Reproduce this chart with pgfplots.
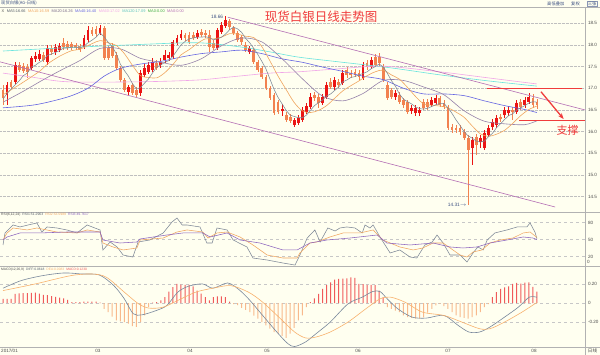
\documentclass[border=0pt]{standalone}
\usepackage{pgfplots}
\pgfplotsset{compat=1.18}
\usepackage{pgfplotstable}
\usepackage{fontspec}
\setmainfont{Liberation Sans}
\newfontfamily\cjk{Noto Sans CJK SC}
\usetikzlibrary{arrows.meta}
\definecolor{bgcol}{RGB}{255,255,240}
\definecolor{candleup}{RGB}{235,20,20}
\definecolor{candledn}{RGB}{242,130,80}
\definecolor{mafive}{RGB}{125,135,150}
\definecolor{maten}{RGB}{240,165,95}
\definecolor{matwenty}{RGB}{150,130,170}
\definecolor{maforty}{RGB}{100,100,225}
\definecolor{masixty}{RGB}{240,165,232}
\definecolor{mahundred}{RGB}{105,228,222}
\definecolor{trendcol}{RGB}{180,110,180}
\definecolor{rsithree}{RGB}{140,100,190}
\definecolor{macdneg}{RGB}{248,185,140}
\definecolor{macdpos}{RGB}{240,90,90}
\definecolor{diffcol}{RGB}{120,135,155}
\definecolor{deacol}{RGB}{248,178,110}
\definecolor{titlecol}{RGB}{240,60,60}
\definecolor{hdrcol}{RGB}{60,80,130}
\definecolor{mazero}{RGB}{60,170,60}

\pgfplotstableread{
i o h l c
1 16.85 17.15 16.61 17.08
3 17.15 17.61 17.10 17.54
7 17.47 17.75 17.42 17.70
8 17.68 17.84 17.61 17.75
9 17.68 17.89 17.63 17.79
11 17.61 18.00 17.54 17.93
13 17.84 18.02 17.77 17.95
14 17.89 18.05 17.84 17.98
20 17.95 18.23 17.91 18.16
21 18.11 18.44 18.07 18.35
24 18.28 18.46 18.23 18.39
31 16.91 17.08 16.85 17.03
34 16.89 17.42 16.82 17.35
35 17.31 17.56 17.26 17.47
36 17.38 17.61 17.33 17.54
37 17.42 17.70 17.38 17.61
39 17.54 17.70 17.47 17.61
40 17.65 17.89 17.58 17.77
41 17.70 17.84 17.63 17.77
42 17.72 18.11 17.68 18.07
43 18.05 18.23 18.00 18.16
44 18.16 18.35 18.11 18.25
48 18.18 18.35 18.14 18.28
53 17.93 18.39 17.89 18.35
54 18.30 18.53 18.25 18.46
55 18.44 18.66 18.39 18.58
61 17.84 17.98 17.79 17.93
69 16.48 16.64 16.36 16.52
72 16.15 16.31 16.11 16.27
73 16.20 16.39 16.15 16.31
74 16.27 16.57 16.22 16.50
75 16.45 16.66 16.41 16.59
76 16.57 16.89 16.52 16.80
79 16.66 16.87 16.61 16.80
80 16.80 17.15 16.75 17.08
82 17.03 17.26 16.96 17.19
84 17.12 17.42 17.08 17.35
89 17.24 17.61 17.19 17.54
91 17.49 17.72 17.45 17.65
97 16.80 16.96 16.73 16.89
101 16.48 16.61 16.41 16.55
102 16.43 16.61 16.36 16.55
103 16.43 16.57 16.36 16.50
106 16.61 16.80 16.57 16.73
107 16.66 16.85 16.61 16.78
116 15.62 15.88 15.23 15.81
118 15.76 15.92 15.62 15.85
119 15.62 16.04 15.58 15.97
120 15.92 16.15 15.88 16.08
121 16.11 16.29 16.04 16.22
122 16.15 16.39 16.08 16.31
124 16.39 16.57 16.31 16.50
125 16.43 16.59 16.36 16.50
127 16.45 16.73 16.41 16.66
129 16.61 16.80 16.55 16.73
130 16.68 16.89 16.64 16.80
}\uptab

\pgfplotstableread{
i o h l c
0 16.96 17.08 16.61 16.78
2 17.15 17.19 16.98 17.03
4 17.54 17.61 17.38 17.42
5 17.51 17.58 17.35 17.40
6 17.49 17.56 17.24 17.38
10 17.77 17.84 17.61 17.65
12 17.93 18.00 17.77 17.84
15 18.05 18.16 17.89 17.95
16 18.02 18.09 17.89 17.93
17 18.02 18.07 17.89 17.93
18 18.00 18.05 17.89 17.93
19 17.98 18.02 17.84 17.89
22 18.35 18.41 18.21 18.25
23 18.37 18.44 18.18 18.25
25 18.39 18.44 17.65 17.70
26 17.93 18.00 17.65 17.70
27 17.98 18.05 17.70 17.75
28 17.77 17.84 17.42 17.47
29 17.47 17.51 17.15 17.19
30 17.19 17.24 16.91 16.96
32 17.08 17.12 16.85 16.89
33 16.96 17.03 16.80 16.85
38 17.58 17.65 17.42 17.47
45 18.23 18.28 18.09 18.16
46 18.23 18.30 18.02 18.07
47 18.23 18.30 18.11 18.16
49 18.30 18.37 18.18 18.23
50 18.28 18.35 18.16 18.23
51 18.23 18.35 17.84 17.95
52 18.05 18.11 17.89 17.93
56 18.56 18.60 18.35 18.41
57 18.39 18.44 18.23 18.28
58 18.28 18.32 18.07 18.11
59 18.18 18.23 18.00 18.07
60 18.00 18.07 17.84 17.89
62 17.89 17.93 17.56 17.61
63 17.61 17.65 17.38 17.42
64 17.47 17.51 17.21 17.26
65 17.26 17.31 16.96 17.01
66 17.01 17.05 16.73 16.78
67 16.85 16.89 16.39 16.43
68 16.68 16.73 16.41 16.45
70 16.39 16.45 16.22 16.27
71 16.34 16.41 16.20 16.25
77 16.85 16.91 16.71 16.78
78 16.80 16.87 16.55 16.66
81 17.15 17.24 16.98 17.03
83 17.15 17.21 17.01 17.08
85 17.42 17.49 17.24 17.31
86 17.35 17.42 17.24 17.31
87 17.38 17.45 17.26 17.31
88 17.35 17.42 17.19 17.26
90 17.58 17.65 17.42 17.49
92 17.72 17.79 17.49 17.54
93 17.72 17.81 17.51 17.58
94 17.49 17.56 17.15 17.19
95 17.08 17.15 16.73 16.78
96 16.96 17.01 16.75 16.80
98 16.85 16.91 16.64 16.68
99 16.73 16.78 16.55 16.61
100 16.68 16.73 16.41 16.45
104 16.68 16.75 16.50 16.55
105 16.68 16.75 16.50 16.57
108 16.78 16.82 16.57 16.61
109 16.66 16.73 16.52 16.57
110 16.57 16.61 16.04 16.08
111 16.11 16.18 15.97 16.04
112 16.08 16.15 15.97 16.04
113 16.08 16.15 15.92 15.99
114 15.99 16.06 15.81 15.85
115 15.85 15.92 14.31 15.58
117 15.88 15.95 15.46 15.69
123 16.34 16.41 16.22 16.29
126 16.50 16.57 16.27 16.45
128 16.68 16.75 16.50 16.57
131 16.78 16.87 16.55 16.61
132 16.68 16.75 16.52 16.61
}\dntab

\pgfplotstableread{
i v
0 0.045
1 0.045
2 0.045
3 0.097
4 0.103
5 0.105
6 0.105
7 0.108
8 0.110
9 0.100
10 0.087
11 0.085
12 0.073
13 0.065
14 0.058
15 0.050
16 0.035
17 0.010
18 0.012
19 0.010
20 0.015
21 0.017
22 0.017
23 0.017
24 0.005
37 0.005
38 0.010
39 0.028
40 0.063
41 0.120
42 0.167
43 0.202
44 0.195
45 0.191
46 0.191
47 0.177
48 0.132
49 0.100
50 0.063
51 0.028
52 0.063
53 0.070
54 0.070
55 0.063
56 0.017
76 0.010
77 0.050
78 0.097
79 0.150
80 0.190
81 0.219
82 0.247
83 0.254
84 0.258
85 0.261
86 0.271
87 0.265
88 0.202
89 0.200
90 0.191
91 0.191
92 0.190
93 0.132
94 0.060
121 0.063
122 0.115
123 0.150
124 0.165
125 0.177
126 0.202
127 0.212
128 0.205
129 0.215
130 0.219
131 0.170
132 0.122
}\macdup

\pgfplotstableread{
i v
25 -0.059
26 -0.094
27 -0.140
28 -0.181
29 -0.190
30 -0.198
31 -0.216
32 -0.240
33 -0.250
34 -0.198
35 -0.129
36 -0.042
57 -0.010
58 -0.020
59 -0.050
60 -0.070
61 -0.094
62 -0.130
63 -0.163
64 -0.200
65 -0.233
66 -0.268
67 -0.303
68 -0.320
69 -0.344
70 -0.365
71 -0.320
72 -0.260
73 -0.180
74 -0.129
75 -0.042
95 -0.042
96 -0.060
97 -0.077
98 -0.094
99 -0.129
100 -0.146
101 -0.155
102 -0.163
103 -0.163
104 -0.150
105 -0.100
106 -0.059
107 -0.024
108 -0.007
109 -0.030
110 -0.059
111 -0.094
112 -0.129
113 -0.146
114 -0.155
115 -0.163
116 -0.146
117 -0.129
118 -0.094
119 -0.042
120 -0.010
}\macddn

\pgfplotsset{
  panel/.style={anchor=north west, scale only axis, width=585pt,
    xmin=-0.742, xmax=143.88, axis line style={draw=none}, xtick=\empty,
    major tick length=0pt, yticklabel pos=right,
    ymajorgrids, grid style={dashed, black!22, line width=0.35pt},
    yticklabel style={font=\fontsize{4.6}{5}\selectfont, text=black!70, xshift=-0.5pt},
    /pgf/number format/assume math mode=true},
  candle/.style 2 args={color=#1, only marks, mark=none, mark size=0pt, forget plot,
    error bars/.cd, y dir=both, y explicit, error mark=none,
    error bar style={color=#1, solid, line width=#2}},
  dummy/.style={draw=none, mark=none, forget plot},
}

\begin{document}
\begin{tikzpicture}
\fill[bgcol] (0pt,0pt) rectangle (600pt,-355pt);
\useasboundingbox (0pt,0pt) rectangle (600pt,-355pt);

% ---------------- main price panel ----------------
\begin{axis}[panel, at={(0pt,-7pt)}, height=205pt,
  ymin=14.145, ymax=18.876, ytick={14.5,15,15.5,16,16.5,17,17.5,18,18.5},
  yticklabel style={/pgf/number format/.cd, fixed, fixed zerofill, precision=1},
  grid style={densely dotted, black!25, line width=0.35pt}]
\addplot[dummy] coordinates {(-6,16)};
\addplot[candle={bgcol}{0.2pt}] coordinates {(-6,16) +- (0,0.01)};
\addplot[candle={candledn}{0.6pt}] table[x=i, y expr={(\thisrow{h}+\thisrow{l})/2}, y error expr={(\thisrow{h}-\thisrow{l})/2}] {\dntab};
\addplot[candle={candleup}{0.6pt}] table[x=i, y expr={(\thisrow{h}+\thisrow{l})/2}, y error expr={(\thisrow{h}-\thisrow{l})/2}] {\uptab};
\addplot[candle={candledn}{2.8pt}] table[x=i, y expr={(\thisrow{o}+\thisrow{c})/2}, y error expr={abs(\thisrow{o}-\thisrow{c})/2}] {\dntab};
\addplot[candle={candleup}{2.8pt}] table[x=i, y expr={(\thisrow{o}+\thisrow{c})/2}, y error expr={abs(\thisrow{o}-\thisrow{c})/2}] {\uptab};

% moving averages
\addplot[color=mahundred, line width=0.6pt, smooth, mark=none] coordinates {(0,17.86)(14,17.93)(31,18.00)(48,18.05)(59,17.95)(66,17.84)(73,17.72)(83,17.61)(96,17.47)(108,17.31)(120,17.17)(132,17.05)};
\addplot[color=masixty, line width=0.6pt, smooth, mark=none] coordinates {(0,17.35)(7,17.26)(16,17.15)(34,17.15)(48,17.19)(56,17.26)(66,17.35)(73,17.38)(83,17.45)(94,17.51)(108,17.38)(120,17.24)(132,17.10)};
\addplot[color=maforty, line width=0.6pt, smooth, mark=none] coordinates {(0,16.55)(8,16.62)(16,16.80)(21,17.00)(25,17.28)(29,17.46)(34,17.56)(39,17.62)(44,17.72)(49,17.80)(54,17.84)(59,17.88)(64,17.80)(69,17.68)(74,17.60)(79,17.49)(84,17.39)(89,17.28)(94,17.20)(99,17.00)(104,16.87)(109,16.87)(114,16.83)(119,16.71)(124,16.60)(129,16.51)(132,16.44)};
\addplot[color=matwenty, line width=0.6pt, smooth, mark=none] coordinates {(0,16.68)(5,16.93)(10,17.20)(15,17.45)(19,17.64)(24,17.92)(29,17.91)(34,17.69)(39,17.60)(44,17.53)(49,17.68)(54,17.98)(59,18.16)(64,18.07)(69,17.68)(74,17.22)(79,16.82)(84,16.71)(89,16.88)(94,17.18)(99,17.18)(104,17.03)(109,16.85)(114,16.48)(119,16.24)(124,16.18)(129,16.16)(132,16.25)};
\addplot[color=maten, line width=0.6pt, smooth, mark=none] coordinates {(0,16.85)(4,17.08)(9,17.39)(11,17.56)(14,17.74)(17,17.87)(19,17.90)(22,18.03)(24,18.10)(26,18.05)(28,17.99)(30,17.80)(32,17.53)(34,17.29)(36,17.25)(38,17.24)(40,17.36)(42,17.55)(44,17.77)(46,17.89)(48,18.03)(50,18.14)(52,18.14)(54,18.18)(56,18.26)(58,18.25)(60,18.20)(62,18.17)(64,17.96)(66,17.63)(68,17.28)(70,16.97)(72,16.67)(74,16.48)(76,16.44)(78,16.49)(80,16.60)(82,16.77)(84,16.94)(86,17.06)(88,17.17)(90,17.29)(92,17.38)(94,17.42)(96,17.31)(98,17.21)(100,17.02)(102,16.81)(104,16.64)(106,16.61)(108,16.59)(110,16.55)(112,16.45)(114,16.33)(116,16.13)(118,15.95)(120,15.89)(122,15.94)(124,16.03)(126,16.19)(128,16.37)(130,16.51)(132,16.59)};
\addplot[color=mafive, line width=0.55pt, mark=none] coordinates {(0,16.75)(1,16.88)(2,16.98)(3,17.08)(4,17.17)(5,17.29)(6,17.35)(7,17.49)(8,17.53)(9,17.60)(10,17.65)(11,17.76)(12,17.79)(13,17.83)(14,17.87)(15,17.93)(16,17.93)(17,17.95)(18,17.95)(19,17.93)(20,17.97)(21,18.05)(22,18.11)(23,18.18)(24,18.28)(25,18.19)(26,18.06)(27,17.96)(28,17.80)(29,17.56)(30,17.41)(31,17.28)(32,17.11)(33,16.98)(34,17.02)(35,17.12)(36,17.22)(37,17.36)(38,17.49)(39,17.54)(40,17.60)(41,17.64)(42,17.74)(43,17.87)(44,18.00)(45,18.08)(46,18.14)(47,18.16)(48,18.18)(49,18.18)(50,18.19)(51,18.17)(52,18.12)(53,18.14)(54,18.18)(55,18.25)(56,18.35)(57,18.41)(58,18.37)(59,18.29)(60,18.15)(61,18.05)(62,17.92)(63,17.78)(64,17.62)(65,17.45)(66,17.21)(67,16.98)(68,16.79)(69,16.64)(70,16.49)(71,16.38)(72,16.35)(73,16.32)(74,16.32)(75,16.38)(76,16.49)(77,16.60)(78,16.67)(79,16.73)(80,16.82)(81,16.87)(82,16.95)(83,17.03)(84,17.15)(85,17.19)(86,17.25)(87,17.27)(88,17.31)(89,17.34)(90,17.38)(91,17.45)(92,17.50)(93,17.56)(94,17.49)(95,17.35)(96,17.18)(97,17.05)(98,16.87)(99,16.75)(100,16.69)(101,16.64)(102,16.57)(103,16.53)(104,16.52)(105,16.54)(106,16.58)(107,16.62)(108,16.65)(109,16.65)(110,16.55)(111,16.42)(112,16.27)(113,16.14)(114,16.00)(115,15.90)(116,15.85)(117,15.78)(118,15.76)(119,15.78)(120,15.88)(121,15.96)(122,16.09)(123,16.18)(124,16.28)(125,16.37)(126,16.41)(127,16.50)(128,16.55)(129,16.60)(130,16.66)(131,16.69)(132,16.68)};

% trend channel
\addplot[color=trendcol, line width=0.6pt, mark=none] coordinates {(55.6,18.64)(143.88,16.50)};
\addplot[color=trendcol, line width=0.6pt, mark=none] coordinates {(-0.742,17.61)(136.5,14.26)};
% support / resistance
\addplot[color=titlecol, line width=1.1pt, mark=none] coordinates {(119.7,17.00)(143.1,17.00)};
\addplot[color=titlecol, line width=1.1pt, mark=none] coordinates {(127.6,16.25)(143.88,16.25)};
\addplot[color=titlecol, line width=1.3pt, mark=none, -{Stealth[length=6pt,width=4.5pt]}] coordinates {(133.0,16.92)(138.6,16.29)};

\node[anchor=east, font=\fontsize{4.8}{5}\selectfont, text=hdrcol, inner sep=0.5pt] at (axis cs:54.6,18.66) {18.66};
\node[anchor=east, font=\fontsize{4.8}{5}\selectfont, text=hdrcol, inner sep=0.5pt] at (axis cs:114.8,14.31) {14.31$\rightarrow$};
\node[font=\cjk\fontsize{11}{12}\selectfont, text=titlecol] at (axis cs:139.6,16.04) {支撑};
\end{axis}

% ---------------- RSI panel ----------------
\begin{axis}[panel, at={(0pt,-212pt)}, height=54pt, ymin=3.2, ymax=98.5, ytick={20,50,80}]
\addplot[dummy] coordinates {(-6,50)};
\addplot[color=mafive, line width=0.55pt, mark=none] coordinates {(0,40.3)(0.5,61.5)(2.5,75.6)(4.2,72.1)(6.2,75.6)(8.4,79.1)(9.6,63.2)(10.9,72.1)(13.3,70.3)(15.8,66.8)(18.3,61.5)(20.8,75.6)(22.7,70.3)(24,66.8)(24.7,31.5)(26.5,45.6)(28.2,36.8)(29.7,22.6)(32.1,19.1)(33.4,45.6)(36.3,49.1)(39.6,61.5)(41.8,81)(43,87.9)(44.3,75.6)(45.5,75.6)(48.7,72.1)(50.4,43.8)(51.7,43.8)(52.9,70.3)(55.4,66.8)(56.9,49.1)(60.3,36.8)(61.8,17.3)(65.3,13.8)(69.2,8.5)(72.2,4.9)(73.4,22.6)(75.2,52.6)(77.1,66.8)(78.4,45.6)(80.3,70.3)(82.1,65)(83.3,70.3)(85,72.1)(87,70.3)(88.8,61.5)(89.5,75.6)(90.7,70.3)(91.5,75.6)(93.2,54.4)(95.7,26.2)(98.1,31.5)(100.6,19.1)(102.3,17.3)(104.3,40.3)(106.1,45.6)(107.3,57.9)(108.8,43.8)(110.5,22.6)(113,22.6)(114.7,10.2)(116.2,26.2)(117.4,36.8)(118.7,31.5)(119.7,49.1)(121.6,61.5)(124.6,66.8)(127.1,72.1)(129.5,72.1)(130.3,79.1)(131.5,63.2)(132,51.3)};
\addplot[color=maten, line width=0.55pt, mark=none] coordinates {(0,49.1)(1,61.5)(2.5,70.3)(6,66.8)(8.4,70.3)(13.3,63.2)(18.3,61.5)(20.8,66.8)(24,63.2)(24.7,43.8)(27.2,36.8)(29.7,31.5)(33.1,35)(33.9,49.1)(39.6,52.6)(43,63.2)(45.5,66.8)(49.4,63.2)(50.7,52.6)(52.9,61.5)(55.4,63.2)(58.6,54.4)(61.8,40.3)(65.3,22.6)(69.2,17.3)(72.7,17.3)(73.4,26.2)(75.9,43.8)(77.6,45.6)(80.8,54.4)(84.1,61.5)(88.3,61.5)(91.5,66.8)(93.9,49.1)(98.1,36.8)(101.4,31.5)(103.8,35)(106.3,43.8)(108.8,43.8)(113,22.6)(114.7,19.1)(116.2,27.9)(118.4,31.5)(120.4,43.8)(122.9,49.1)(126.1,52.6)(128.6,61.5)(130.3,63.2)(132,53.6)};
\addplot[color=rsithree, line width=0.55pt, mark=none] coordinates {(0,49.1)(1,54.4)(4.2,61.5)(9.1,61.5)(15.8,63.2)(20.8,63.2)(24,63.2)(24.7,49.1)(28.9,43.8)(33.1,45.6)(33.9,50.9)(40.5,57.9)(44.5,61.5)(49.4,61.5)(51.2,54.4)(55.4,61.5)(58.6,49.1)(63.5,43.8)(69.2,31.5)(72.7,31.5)(75.9,43.8)(80.1,49.1)(85.8,52.6)(92.5,57.9)(94.9,43.8)(100.6,40.3)(106.3,43.8)(110.5,36.8)(113.7,35)(117.2,36.8)(120.4,43.8)(124.6,49.1)(128.6,54.4)(131,52.6)(132,49.8)};
\end{axis}

% ---------------- MACD panel ----------------
\begin{axis}[panel, at={(0pt,-266pt)}, height=81pt, ymin=-0.46, ymax=0.39,
  ytick={-0.2,0,0.2}, yticklabels={-0.20,0,0.20}]
\addplot[dummy] coordinates {(-6,0)};
\addplot[ybar, bar width=1pt, bar shift=0pt, fill=macdneg, draw=none, mark=none, forget plot] table[x=i, y=v] {\macddn};
\addplot[ybar, bar width=1pt, bar shift=0pt, fill=macdpos, draw=none, mark=none, forget plot] table[x=i, y=v] {\macdup};
\addplot[color=diffcol, line width=0.6pt, smooth, mark=none] coordinates {(0,0.157)(4.5,0.237)(9.8,0.289)(15.1,0.317)(19.5,0.306)(23.8,0.296)(27.4,0.184)(30,0.045)(32.2,-0.111)(34.4,-0.122)(37.9,-0.077)(40.5,-0.024)(43.2,0.115)(45.8,0.177)(49.3,0.202)(51.9,0.157)(55.5,0.212)(58.1,0.150)(60.7,0.045)(64.2,-0.129)(67.7,-0.303)(70.4,-0.424)(72.1,-0.455)(74.8,-0.407)(77.4,-0.320)(80.9,-0.198)(85.3,-0.007)(88.8,0.063)(91.4,0.122)(93.2,0.122)(95,0.045)(97.6,-0.059)(101.1,-0.146)(104.6,-0.157)(109,-0.129)(112.5,-0.233)(115.2,-0.303)(117.8,-0.303)(120.4,-0.250)(124,-0.146)(127.4,-0.042)(130.1,0.063)(132,0.062)};
\addplot[color=deacol, line width=0.6pt, smooth, mark=none] coordinates {(0,0.132)(8,0.202)(16.8,0.289)(22.1,0.306)(25.6,0.271)(30,0.115)(33.5,-0.007)(36.1,-0.052)(39.6,-0.042)(43.2,0.028)(47.6,0.115)(51.9,0.157)(56.3,0.184)(60.7,0.115)(64.2,0.010)(68.6,-0.163)(72.1,-0.303)(74.8,-0.365)(77.4,-0.355)(80.9,-0.303)(85.3,-0.198)(89.7,-0.059)(93.2,0.045)(95.8,0.063)(99.4,0.010)(103.7,-0.094)(109,-0.129)(113.4,-0.198)(117.8,-0.268)(120.4,-0.268)(124,-0.198)(128.3,-0.094)(132,0.008)};
\end{axis}

% ---------------- frame lines ----------------
\draw[black!30, line width=0.4pt] (0pt,-7pt) -- (600pt,-7pt);
\draw[black!30, line width=0.4pt] (0pt,-212pt) -- (600pt,-212pt);
\draw[black!30, line width=0.4pt] (0pt,-266pt) -- (600pt,-266pt);
\draw[black!30, line width=0.4pt] (0pt,-347pt) -- (600pt,-347pt);
\draw[black!30, line width=0.4pt] (585pt,-7pt) -- (585pt,-355pt);

% ---------------- texts ----------------
\node[anchor=west, font=\cjk\fontsize{4.3}{5}\selectfont, text=hdrcol, inner sep=0pt] at (1pt,-3.2pt) {现货白银(AG-日线)};
\node[anchor=west, font=\cjk\fontsize{4.3}{5}\selectfont, text=hdrcol, inner sep=0pt] at (547pt,-3.5pt) {高低叠加};
\node[anchor=west, font=\cjk\fontsize{4.3}{5}\selectfont, text=hdrcol, inner sep=0pt] at (571pt,-3.5pt) {复权};
\node[anchor=west, font=\cjk\fontsize{4.3}{5}\selectfont, text=hdrcol, draw=hdrcol!60, line width=0.3pt, inner sep=0.6pt] at (587pt,-3.5pt) {三张};

\node[anchor=west, inner sep=0pt, font=\fontsize{3.9}{4.5}\selectfont] at (1.5pt,-11pt)
  {\textcolor{black!70}{X}\hspace{2.5pt}\textcolor{mafive!70!black}{MA5:16.66}\hspace{2.5pt}\textcolor{maten}{MA10:16.59}\hspace{2.5pt}\textcolor{matwenty!80!black}{MA20:16.26}\hspace{2.5pt}\textcolor{maforty}{MA40:16.40}\hspace{2.5pt}\textcolor{masixty}{MA60:17.02}\hspace{2.5pt}\textcolor{mahundred!85!black}{MA120:17.09}\hspace{2.5pt}\textcolor{mazero}{MA0:0.00}\hspace{2.5pt}\textcolor{trendcol}{MA0:0.00}};

\node[anchor=west, inner sep=0pt, font=\fontsize{3.4}{4}\selectfont] at (1pt,-214.8pt)
  {\textcolor{black!70}{RSI(6,12,24)}\hspace{2pt}\textcolor{mafive!70!black}{RSI1:51.2963}\hspace{2pt}\textcolor{maten}{RSI2:53.5989}\hspace{2pt}\textcolor{rsithree}{RSI3:49.7617}};

\node[anchor=west, inner sep=0pt, font=\fontsize{3.3}{4}\selectfont] at (1pt,-270pt)
  {\textcolor{black!70}{MACD(12,26,9)}\hspace{2pt}\textcolor{diffcol!70!black}{DIFF:0.0618}\hspace{2pt}\textcolor{deacol}{DEA:0.0083}\hspace{2pt}\textcolor{macdpos}{MACD:0.1230}};

\node[anchor=west, inner sep=0pt, font=\fontsize{4.6}{5}\selectfont, text=black!70] at (587pt,-262pt) {0};

\node[font=\cjk\fontsize{12.5}{13}\selectfont, text=titlecol] at (321pt,-17pt) {现货白银日线走势图};

\begin{scope}[every node/.style={inner sep=0pt, font=\fontsize{4.6}{5}\selectfont, text=black!70}]
\node[anchor=west] at (1pt,-351pt) {2017/01};
\node at (98pt,-351pt) {03};
\node at (190pt,-351pt) {04};
\node at (267pt,-351pt) {05};
\node at (358pt,-351pt) {06};
\node at (448pt,-351pt) {07};
\node at (534pt,-351pt) {08};
\node[font=\cjk\fontsize{4.6}{5}\selectfont] at (592.5pt,-351pt) {日线};
\end{scope}
\end{tikzpicture}
\end{document}
